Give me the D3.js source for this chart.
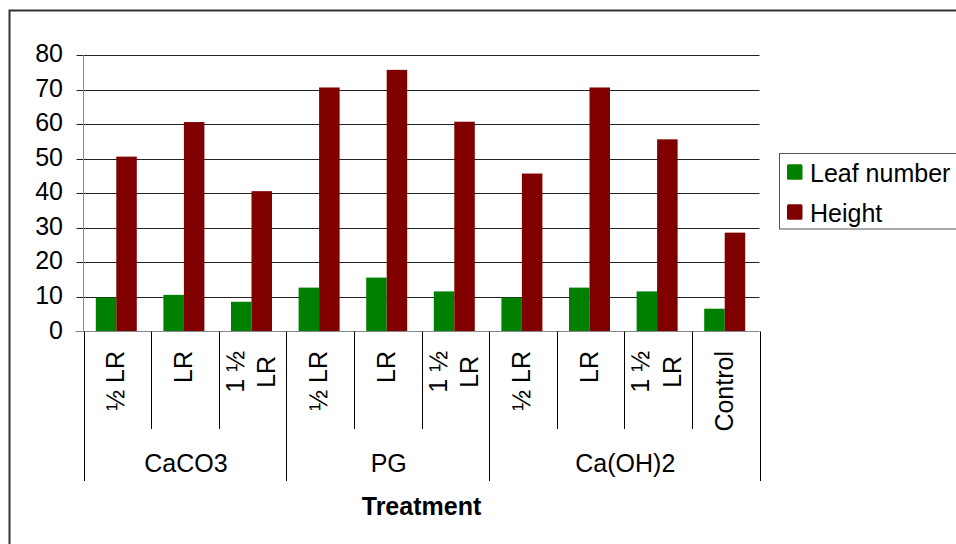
<!DOCTYPE html>
<html>
<head>
<meta charset="utf-8">
<script src="https://cdn.jsdelivr.net/npm/d3@7"></script>
<style>
  html, body { margin: 0; padding: 0; background: #fff; }
  svg { display: block; font-family: "Liberation Sans", Arial, sans-serif; }
</style>
</head>
<body>
<svg id="chart" width="956" height="544"></svg>
<script>
// Category labels along the x axis (line breaks split rotated labels)
const categories = ["½ LR", "LR", "1 ½\nLR", "½ LR", "LR", "1 ½\nLR", "½ LR", "LR", "1 ½\nLR", "Control"];
// Treatment groups and how many categories each spans
const groupNames = ["CaCO3", "PG", "Ca(OH)2"];
const groupSizes = [3, 3, 4];
// Series
const seriesNames = ["Leaf number", "Height"];
const leafNumber = [9.8, 10.6, 8.6, 12.7, 15.6, 11.6, 9.8, 12.7, 11.6, 6.6];
const height = [50.6, 60.6, 40.6, 70.6, 75.7, 60.7, 45.7, 70.6, 55.6, 28.6];
const yTicks = [0, 10, 20, 30, 40, 50, 60, 70, 80];
const colors = ["#008000", "#800000"];

const svg = d3.select("#chart");
const font = 25;

// outer chart frame
svg.append("rect")
  .attr("x", 9.5).attr("y", 10.5).attr("width", 960).attr("height", 560)
  .attr("fill", "none").attr("stroke", "#333").attr("stroke-width", 2);

const plotL = 83.5, plotR = 759.5, plotT = 55, plotB = 331.5;

const x = d3.scaleBand().domain(d3.range(categories.length)).range([plotL, plotR]).padding(0);
const y = d3.scaleLinear().domain([0, 80]).range([plotB, plotT]);
const barW = 20.5;
const xs = d3.scaleBand().domain(seriesNames).range([-barW - 1, barW - 1]).padding(0);

// horizontal gridlines with short ticks left of the axis
svg.append("g").selectAll("line").data(yTicks.filter(d => d > 0)).join("line")
  .attr("x1", plotL - 7).attr("x2", plotR)
  .attr("y1", d => Math.round(y(d)) + 0.5).attr("y2", d => Math.round(y(d)) + 0.5)
  .attr("stroke", "#222").attr("stroke-width", 1);

// y axis line
svg.append("line").attr("x1", plotL).attr("x2", plotL).attr("y1", plotT).attr("y2", plotB)
  .attr("stroke", "#888").attr("stroke-width", 1);

// y tick labels
svg.append("g").selectAll("text").data(yTicks).join("text")
  .attr("x", 63).attr("y", d => y(d) + 7)
  .attr("text-anchor", "end").attr("font-size", font).attr("fill", "#000")
  .text(d => d);

// bars
const series = [leafNumber, height];
series.forEach((vals, si) => {
  svg.append("g").selectAll("rect").data(vals).join("rect")
    .attr("x", (d, i) => x(i) + x.bandwidth() / 2 + xs(seriesNames[si]))
    .attr("width", xs.bandwidth())
    .attr("y", d => y(d))
    .attr("height", d => y(0) - y(d))
    .attr("fill", colors[si]);
});

// x axis line
svg.append("line").attr("x1", plotL - 8).attr("x2", plotR).attr("y1", plotB).attr("y2", plotB)
  .attr("stroke", "#888").attr("stroke-width", 1.2);

// category separators below the axis
const groupEnds = [];
let acc = 0;
groupSizes.forEach(s => { acc += s; groupEnds.push(acc); });
const boundaries = d3.range(categories.length + 1);
svg.append("g").selectAll("line").data(boundaries).join("line")
  .attr("x1", i => Math.round(i < categories.length ? x(i) : plotR) + 0.5)
  .attr("x2", i => Math.round(i < categories.length ? x(i) : plotR) + 0.5)
  .attr("y1", plotB)
  .attr("y2", i => (i === 0 || groupEnds.includes(i)) ? 481 : 429)
  .attr("stroke", "#000").attr("stroke-width", 1);

// rotated category labels
const labelTop = 351;
const lineGap = 31.6;
categories.forEach((lab, i) => {
  const lines = lab.split("\n");
  const cx = x(i) + x.bandwidth() / 2;
  const g = svg.append("g");
  const texts = lines.map((ln, li) => {
    const bx = cx + 7 + (li - (lines.length - 1) / 2) * lineGap;
    return g.append("text").attr("font-size", font).attr("fill", "#000")
      .attr("text-anchor", "middle").attr("data-bx", bx).text(ln);
  });
  const maxLen = d3.max(texts, t => t.node().getComputedTextLength());
  const my = labelTop + maxLen / 2;
  texts.forEach(t => {
    const bx = +t.attr("data-bx");
    t.attr("transform", `translate(${bx},${my}) rotate(-90)`);
  });
});

// group labels
let start = 0;
groupNames.forEach((name, gi) => {
  const end = start + groupSizes[gi];
  const x0 = x(start), x1 = end < categories.length ? x(end) : plotR;
  svg.append("text").attr("x", (x0 + x1) / 2 + 1).attr("y", 472)
    .attr("text-anchor", "middle").attr("font-size", font).attr("fill", "#000")
    .text(name);
  start = end;
});

// axis title
svg.append("text").attr("x", (plotL + plotR) / 2).attr("y", 515)
  .attr("text-anchor", "middle").attr("font-size", font).attr("font-weight", "bold")
  .attr("fill", "#000").text("Treatment");

// legend
const lg = svg.append("g");
lg.append("rect").attr("x", 779.5).attr("y", 153.5).attr("width", 190).attr("height", 75.5)
  .attr("fill", "#fff").attr("stroke", "#555").attr("stroke-width", 1);
seriesNames.forEach((name, si) => {
  const top = 164.3 + si * 40;
  lg.append("rect").attr("x", 787).attr("y", top).attr("width", 15.5).attr("height", 15.5)
    .attr("rx", 1.5).attr("fill", colors[si]);
  lg.append("text").attr("x", 810).attr("y", top + 17.2)
    .attr("font-size", font).attr("fill", "#000").text(name);
});
</script>
</body>
</html>
